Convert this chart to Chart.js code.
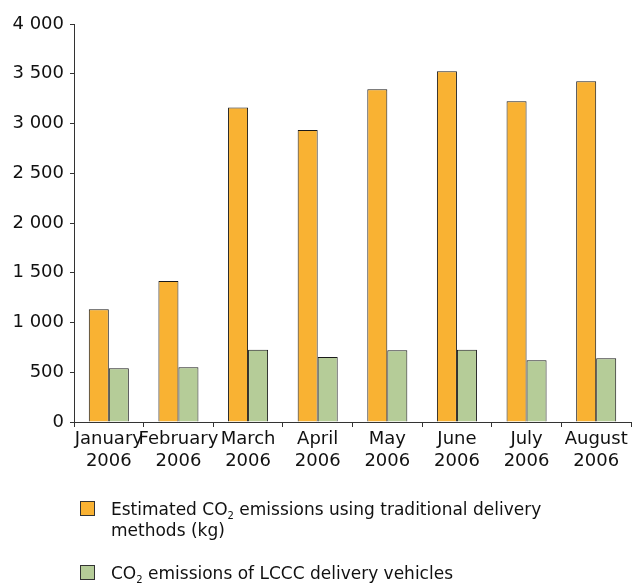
<!DOCTYPE html>
<html><head><meta charset="utf-8">
<script src="https://cdn.jsdelivr.net/npm/chart.js@4/dist/chart.umd.min.js"></script>
<style>
html,body{margin:0;padding:0;background:#fff;}
#wrap{position:relative;width:632px;height:584px;}
#c{position:absolute;left:0;top:0;}
.leg{position:absolute;font-family:"DejaVu Sans",Verdana,sans-serif;font-size:17px;line-height:21px;color:#111;}
.sw{position:absolute;width:13px;height:13px;border:1px solid #333;}
sub{font-size:10px;line-height:0;vertical-align:-4px;}
</style></head>
<body><div id="wrap"><canvas id="c" width="632" height="584"></canvas>
<div class="sw" style="left:80px;top:501px;background:#F9B233"></div>
<div class="leg" style="left:111px;top:499px;">Estimated CO<sub>2</sub> emissions using traditional delivery<br>methods (kg)</div>
<div class="sw" style="left:80px;top:565px;background:#B5CC98"></div>
<div class="leg" style="left:111px;top:563px;">CO<sub>2</sub> emissions of LCCC delivery vehicles</div>
</div>
<script>
const categories = [["January","2006"],["February","2006"],["March","2006"],["April","2006"],["May","2006"],["June","2006"],["July","2006"],["August","2006"]];
const traditional = [1133, 1417, 3160, 2935, 3344, 3525, 3223, 3424];
const lccc = [540, 550, 727, 653, 720, 727, 620, 640];
const seriesNames = ["Estimated CO2 emissions using traditional delivery methods (kg)", "CO2 emissions of LCCC delivery vehicles"];
const yTicks = [0, 500, 1000, 1500, 2000, 2500, 3000, 3500, 4000];

const font = {family: '"DejaVu Sans", Verdana, sans-serif', size: 18};
new Chart(document.getElementById('c'), {
  type: 'bar',
  data: {
    labels: categories,
    datasets: [
      {label: seriesNames[0], data: traditional, backgroundColor: '#F9B233', borderColor: '#1a1a1a', borderWidth: 1, borderSkipped: 'bottom', barPercentage: 1, categoryPercentage: 0.575},
      {label: seriesNames[1], data: lccc, backgroundColor: '#B5CC98', borderColor: '#1a1a1a', borderWidth: 1, borderSkipped: 'bottom', barPercentage: 1, categoryPercentage: 0.575}
    ]
  },
  options: {
    responsive: false, animation: false,
    layout: {padding: {top: 24, right: 1, left: 0, bottom: 112}},
    plugins: {legend: {display: false}, tooltip: {enabled: false}},
    scales: {
      x: {
        offset: true,
        grid: {offset: true, drawOnChartArea: false, drawTicks: true, tickLength: 5, color: '#333'},
        border: {color: '#333', width: 1},
        ticks: {autoSkip: false, maxRotation: 0, minRotation: 0, color: '#111', font: font, padding: 2},
        afterFit: s => { s.height = 50; }
      },
      y: {
        min: 0, max: 4000,
        afterBuildTicks: s => { s.ticks = yTicks.map(v => ({value: v})); },
        grid: {drawOnChartArea: false, drawTicks: true, tickLength: 4, color: '#333'},
        border: {color: '#333', width: 1},
        ticks: {color: '#111', font: font, padding: 6,
          callback: v => String(v).replace(/\B(?=(\d{3})+(?!\d))/g, ' ')},
        afterFit: s => { s.width = 74; }
      }
    }
  }
});
</script></body></html>
